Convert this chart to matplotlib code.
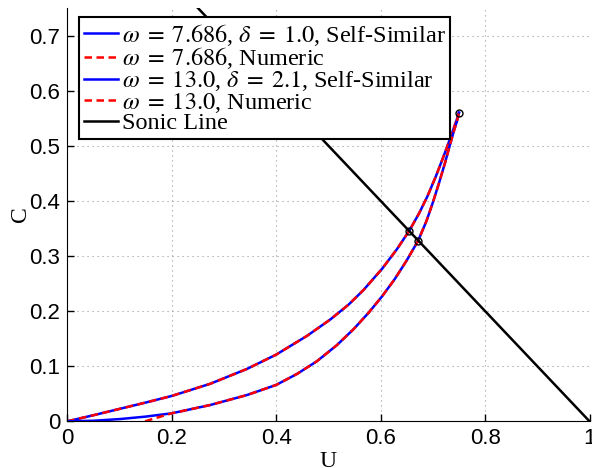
import matplotlib
matplotlib.use("Agg")
import matplotlib.pyplot as plt

plt.rcParams['mathtext.fontset'] = 'stix'

# omega = 7.686, delta = 1.0 (upper curve)
U_ss1 = [0.0, 0.05, 0.1, 0.15, 0.2, 0.2735, 0.344, 0.4, 0.459, 0.504, 0.539, 0.567, 0.603,
         0.631, 0.655, 0.674, 0.690, 0.706, 0.719, 0.730, 0.739, 0.745, 0.750]
C_ss1 = [0.0, 0.011, 0.0225, 0.034, 0.046, 0.068, 0.095, 0.121, 0.155, 0.185, 0.212, 0.238, 0.277,
         0.312, 0.346, 0.378, 0.409, 0.445, 0.477, 0.505, 0.529, 0.545, 0.560]
U_num1 = U_ss1
C_num1 = C_ss1

# omega = 13.0, delta = 2.1 (lower curve)
U_ss2 = [0.0, 0.05, 0.1, 0.15, 0.2, 0.2735, 0.344, 0.4, 0.44, 0.478, 0.516, 0.548, 0.577, 0.603,
         0.627, 0.650, 0.672, 0.688, 0.700, 0.712, 0.723, 0.732, 0.740, 0.746, 0.750]
C_ss2 = [0.0, 0.001, 0.004, 0.0085, 0.0145, 0.0295, 0.0476, 0.066, 0.086, 0.109, 0.138, 0.167, 0.197, 0.227,
         0.258, 0.292, 0.328, 0.364, 0.397, 0.433, 0.468, 0.499, 0.526, 0.544, 0.560]
U_num2 = [0.149, 0.175, 0.2] + U_ss2[5:]
C_num2 = [0.0, 0.0075, 0.0145] + C_ss2[5:]

# sonic line C = 1 - U
U_sonic = [0.0, 1.0]
C_sonic = [1.0, 0.0]

# marked points
U_pts = [0.655, 0.672, 0.750]
C_pts = [0.346, 0.328, 0.560]

labels = [r'$\omega\;=\;7.686$, $\delta\;=\;1.0$, Self-Similar',
          r'$\omega\;=\;7.686$, Numeric',
          r'$\omega\;=\;13.0$, $\delta\;=\;2.1$, Self-Similar',
          r'$\omega\;=\;13.0$, Numeric',
          'Sonic Line']

fig = plt.figure(figsize=(5.92, 4.68), dpi=100)
ax = fig.add_axes([0.1137, 0.0998, 0.8821, 0.8832])

lw = 1.8
dash = (3.0, 1.8)
ax.plot(U_ss1, C_ss1, color='#0000ff', lw=lw, label=labels[0])
ax.plot(U_num1, C_num1, color='#ff0000', lw=lw, ls=(0, dash), label=labels[1])
ax.plot(U_ss2, C_ss2, color='#0000ff', lw=lw, label=labels[2])
ax.plot(U_num2, C_num2, color='#ff0000', lw=lw, ls=(0, dash), label=labels[3])
ax.plot(U_sonic, C_sonic, color='black', lw=lw, label=labels[4])
ax.plot(U_pts, C_pts, ls='none', marker='o', ms=5, mfc='none', mec='black', mew=1.0)

ax.set_xlim(0, 1)
ax.set_ylim(0, 0.75)
ax.set_xticks([0, 0.2, 0.4, 0.6, 0.8, 1.0])
ax.set_xticklabels(['0', '0.2', '0.4', '0.6', '0.8', '1'])
ax.set_yticks([0, 0.1, 0.2, 0.3, 0.4, 0.5, 0.6, 0.7])
ax.set_yticklabels(['0', '0.1', '0.2', '0.3', '0.4', '0.5', '0.6', '0.7'])
ax.tick_params(direction='in', length=5, width=1, labelsize=16, pad=5)
for t in ax.get_xticklabels() + ax.get_yticklabels():
    t.set_family('Liberation Sans')

ax.spines['top'].set_visible(False)
ax.spines['right'].set_visible(False)
ax.set_axisbelow(True)
ax.grid(True, color='#999999', lw=0.8, linestyle=(0, (1, 3.5)))

ax.set_xlabel('U', family='Liberation Serif', fontsize=17, labelpad=1)
ax.set_ylabel('C', family='Liberation Serif', fontsize=17, labelpad=-1)

leg = ax.legend(loc='upper left', bbox_to_anchor=(0.0224, 0.978), borderaxespad=0,
                prop={'family': 'Liberation Serif', 'size': 17.5},
                handlelength=1.4, handletextpad=0.15, borderpad=0.2,
                labelspacing=-0.1, fancybox=False, framealpha=1, edgecolor='black')
leg.get_frame().set_linewidth(1.5)

fig.savefig('out.png', dpi=100)
